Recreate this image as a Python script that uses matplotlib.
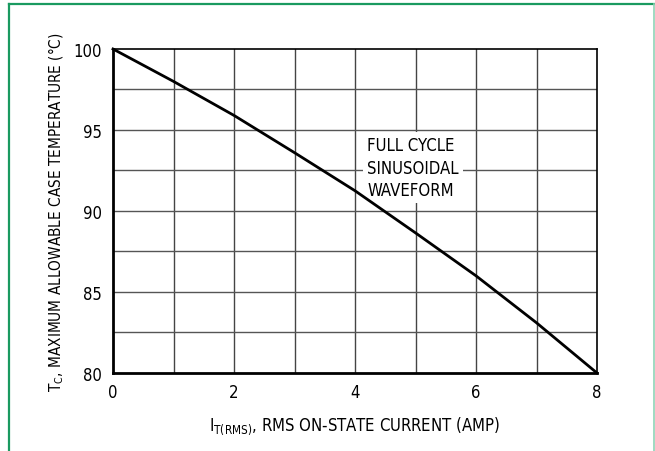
import matplotlib
matplotlib.use('Agg')
import matplotlib.pyplot as plt
from matplotlib.lines import Line2D

plt.rcParams['font.family'] = ['DejaVu Sans']
plt.rcParams['font.stretch'] = 'condensed'
plt.rcParams['mathtext.fontset'] = 'custom'
plt.rcParams['mathtext.rm'] = 'DejaVu Sans:stretch=condensed'

# current (A) vs. max case temperature (C)
current = [0, 1, 2, 3, 4, 5, 6, 7, 8]
temp = [100, 98.0, 95.9, 93.6, 91.25, 88.65, 86.0, 83.1, 80]

x_ticks = [0, 2, 4, 6, 8]
y_ticks = [80, 85, 90, 95, 100]
x_grid = [1, 2, 3, 4, 5, 6, 7]
y_grid = [82.5, 85, 87.5, 90, 92.5, 95, 97.5]

note = 'FULL CYCLE\nSINUSOIDAL\nWAVEFORM'

W, H = 655, 452
fig = plt.figure(figsize=(W / 100, H / 100), dpi=100)
ax = fig.add_axes([113 / W, (H - 374) / H, (597 - 113) / W, (374 - 50) / H])

for g in x_grid:
    ax.axvline(g, color='#444444', lw=1.0, zorder=1)
for g in y_grid:
    ax.axhline(g, color='#555555', lw=1.0, zorder=1)

ax.plot(current, temp, color='black', lw=2.0, zorder=4, clip_on=False)

ax.text(4.2, 94.6, note, fontsize=12, va='top', ha='left', linespacing=1.3,
        zorder=3, bbox=dict(facecolor='white', edgecolor='none', pad=3))

ax.set_xlim(0, 8)
ax.set_ylim(80, 100)
ax.set_xticks(x_ticks)
ax.set_yticks(y_ticks)
ax.tick_params(length=0, labelsize=12)
ax.tick_params(axis='y', pad=8)
ax.tick_params(axis='x', pad=7)

for side in ['left', 'bottom']:
    ax.spines[side].set_linewidth(2.0)
for side in ['top', 'right']:
    ax.spines[side].set_linewidth(1.2)

ax.set_xlabel('I$_{\\mathrm{T(RMS)}}$, RMS ON-STATE CURRENT (AMP)', fontsize=12, labelpad=10)
ax.set_ylabel('T$_{\\mathrm{C}}$, MAXIMUM ALLOWABLE CASE TEMPERATURE (°C)', fontsize=11, labelpad=5)

# green frame round the figure (open at the bottom)
fig.add_artist(Line2D([8.5 / W, 8.5 / W], [0, 1 - 4.5 / H], color='#1a9a60', lw=1.6))
fig.add_artist(Line2D([8.5 / W, 654 / W], [1 - 4.5 / H, 1 - 4.5 / H], color='#1a9a60', lw=1.6))
fig.add_artist(Line2D([653.5 / W, 653.5 / W], [0, 1 - 4.5 / H], color='#8fd3b6', lw=1.2))

fig.savefig('out.png', dpi=100)
